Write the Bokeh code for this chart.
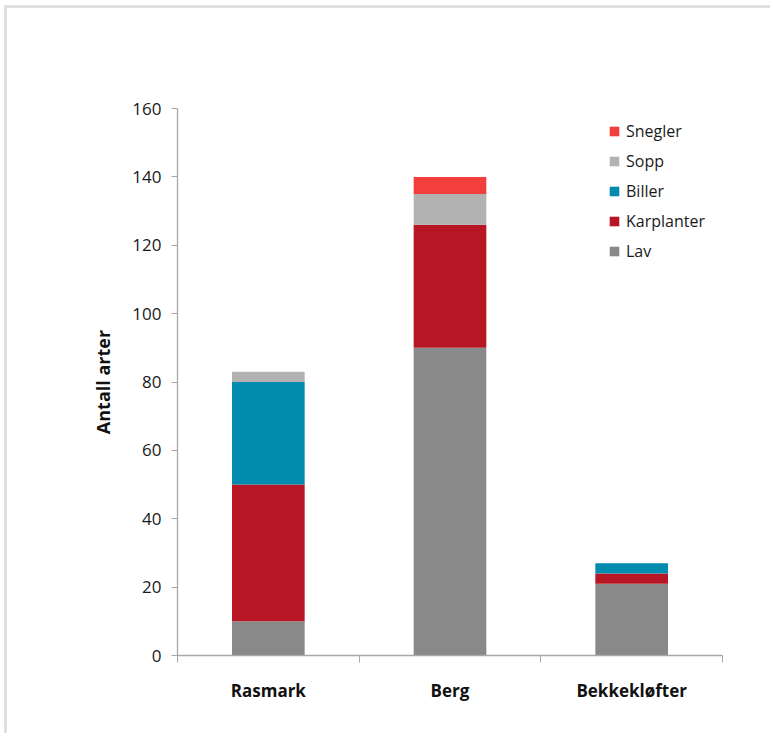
from bokeh.plotting import figure
from bokeh.models import Legend, LegendItem, LinearAxis, FixedTicker, ColumnDataSource, Range1d
from bokeh.embed import file_html
from bokeh.resources import INLINE

# Number of species per group at each site
sites = ["Rasmark", "Berg", "Bekkekløfter"]
lav = [10, 90, 21]
karplanter = [40, 36, 3]
biller = [30, 0, 3]
sopp = [3, 9, 0]
snegler = [0, 5, 0]

groups = ["Lav", "Karplanter", "Biller", "Sopp", "Snegler"]
colors = ["#898989", "#b71724", "#008baf", "#b2b2b2", "#f33f3b"]
y_ticks = [0, 20, 40, 60, 80, 100, 120, 140, 160]

FONT = "Open Sans"
AXIS_GREY = "#a8a8a8"

src = ColumnDataSource(dict(
    x=[1, 2, 3],
    Lav=lav, Karplanter=karplanter, Biller=biller, Sopp=sopp, Snegler=snegler,
))

p = figure(
    width=766, height=728,
    x_range=Range1d(0.5, 3.5), y_range=Range1d(0, 160),
    output_backend="svg", toolbar_location=None,
    min_border_left=170, min_border_right=51,
    min_border_top=100, min_border_bottom=81,
    x_axis_location=None,
)
p.margin = (5, 0, 0, 4)
p.styles = {"border-top": "3px solid #e0e0e0", "border-left": "3px solid #e0e0e0"}
p.outline_line_color = None
p.xgrid.visible = False
p.ygrid.visible = False
p.background_fill_color = "white"
p.border_fill_color = "white"

renderers = p.vbar_stack(groups, x="x", width=0.4, source=src,
                         color=colors, line_color=None)

# y axis
ya = p.yaxis[0]
ya.ticker = FixedTicker(ticks=y_ticks)
ya.minor_tick_line_color = None
ya.major_tick_in = 0
ya.major_tick_out = 6
ya.major_label_standoff = 10
ya.axis_line_color = AXIS_GREY
ya.major_tick_line_color = AXIS_GREY
ya.axis_line_width = 1.3
ya.major_label_text_font = FONT
ya.major_label_text_font_size = "17px"
ya.major_label_text_color = "#1a1a1a"
ya.axis_label = "Antall arter"
ya.axis_label_text_font = FONT
ya.axis_label_text_font_style = "bold"
ya.axis_label_text_font_size = "18px"
ya.axis_label_text_color = "#111111"
ya.axis_label_standoff = 14

# x axis line with ticks between the sites (no labels of its own)
xa = LinearAxis(ticker=FixedTicker(ticks=[0.5, 1.5, 2.5, 3.5]),
                major_label_overrides={0.5: "", 1.5: "", 2.5: "", 3.5: ""})
xa.axis_line_color = AXIS_GREY
xa.axis_line_width = 1.3
xa.major_tick_line_color = AXIS_GREY
xa.major_tick_in = 0
xa.major_tick_out = 7
xa.minor_tick_line_color = None
xa.major_label_text_font_size = "1px"
xa.major_label_standoff = 0
p.add_layout(xa, "below")

# site names
xl = LinearAxis(ticker=FixedTicker(ticks=[1, 2, 3]),
                major_label_overrides={1: sites[0], 2: sites[1], 3: sites[2]})
xl.axis_line_color = None
xl.major_tick_line_color = None
xl.minor_tick_line_color = None
xl.major_tick_in = 0
xl.major_tick_out = 0
xl.major_label_standoff = 16
xl.major_label_text_font = FONT
xl.major_label_text_font_style = "bold"
xl.major_label_text_font_size = "17px"
xl.major_label_text_color = "#111111"
p.add_layout(xl, "below")

items = [LegendItem(label=g, renderers=[r]) for g, r in zip(groups, renderers)]
legend = Legend(items=list(reversed(items)), location=(431, 393))
legend.glyph_width = 12
legend.glyph_height = 12
legend.label_height = 20
legend.spacing = 8
legend.padding = 0
legend.margin = 0
legend.label_standoff = 6
legend.border_line_color = None
legend.background_fill_alpha = 0
legend.label_text_font = FONT
legend.label_text_font_size = "16px"
legend.label_text_color = "#1a1a1a"
p.add_layout(legend, "center")

open("out.html", "w").write(file_html(p, INLINE))
